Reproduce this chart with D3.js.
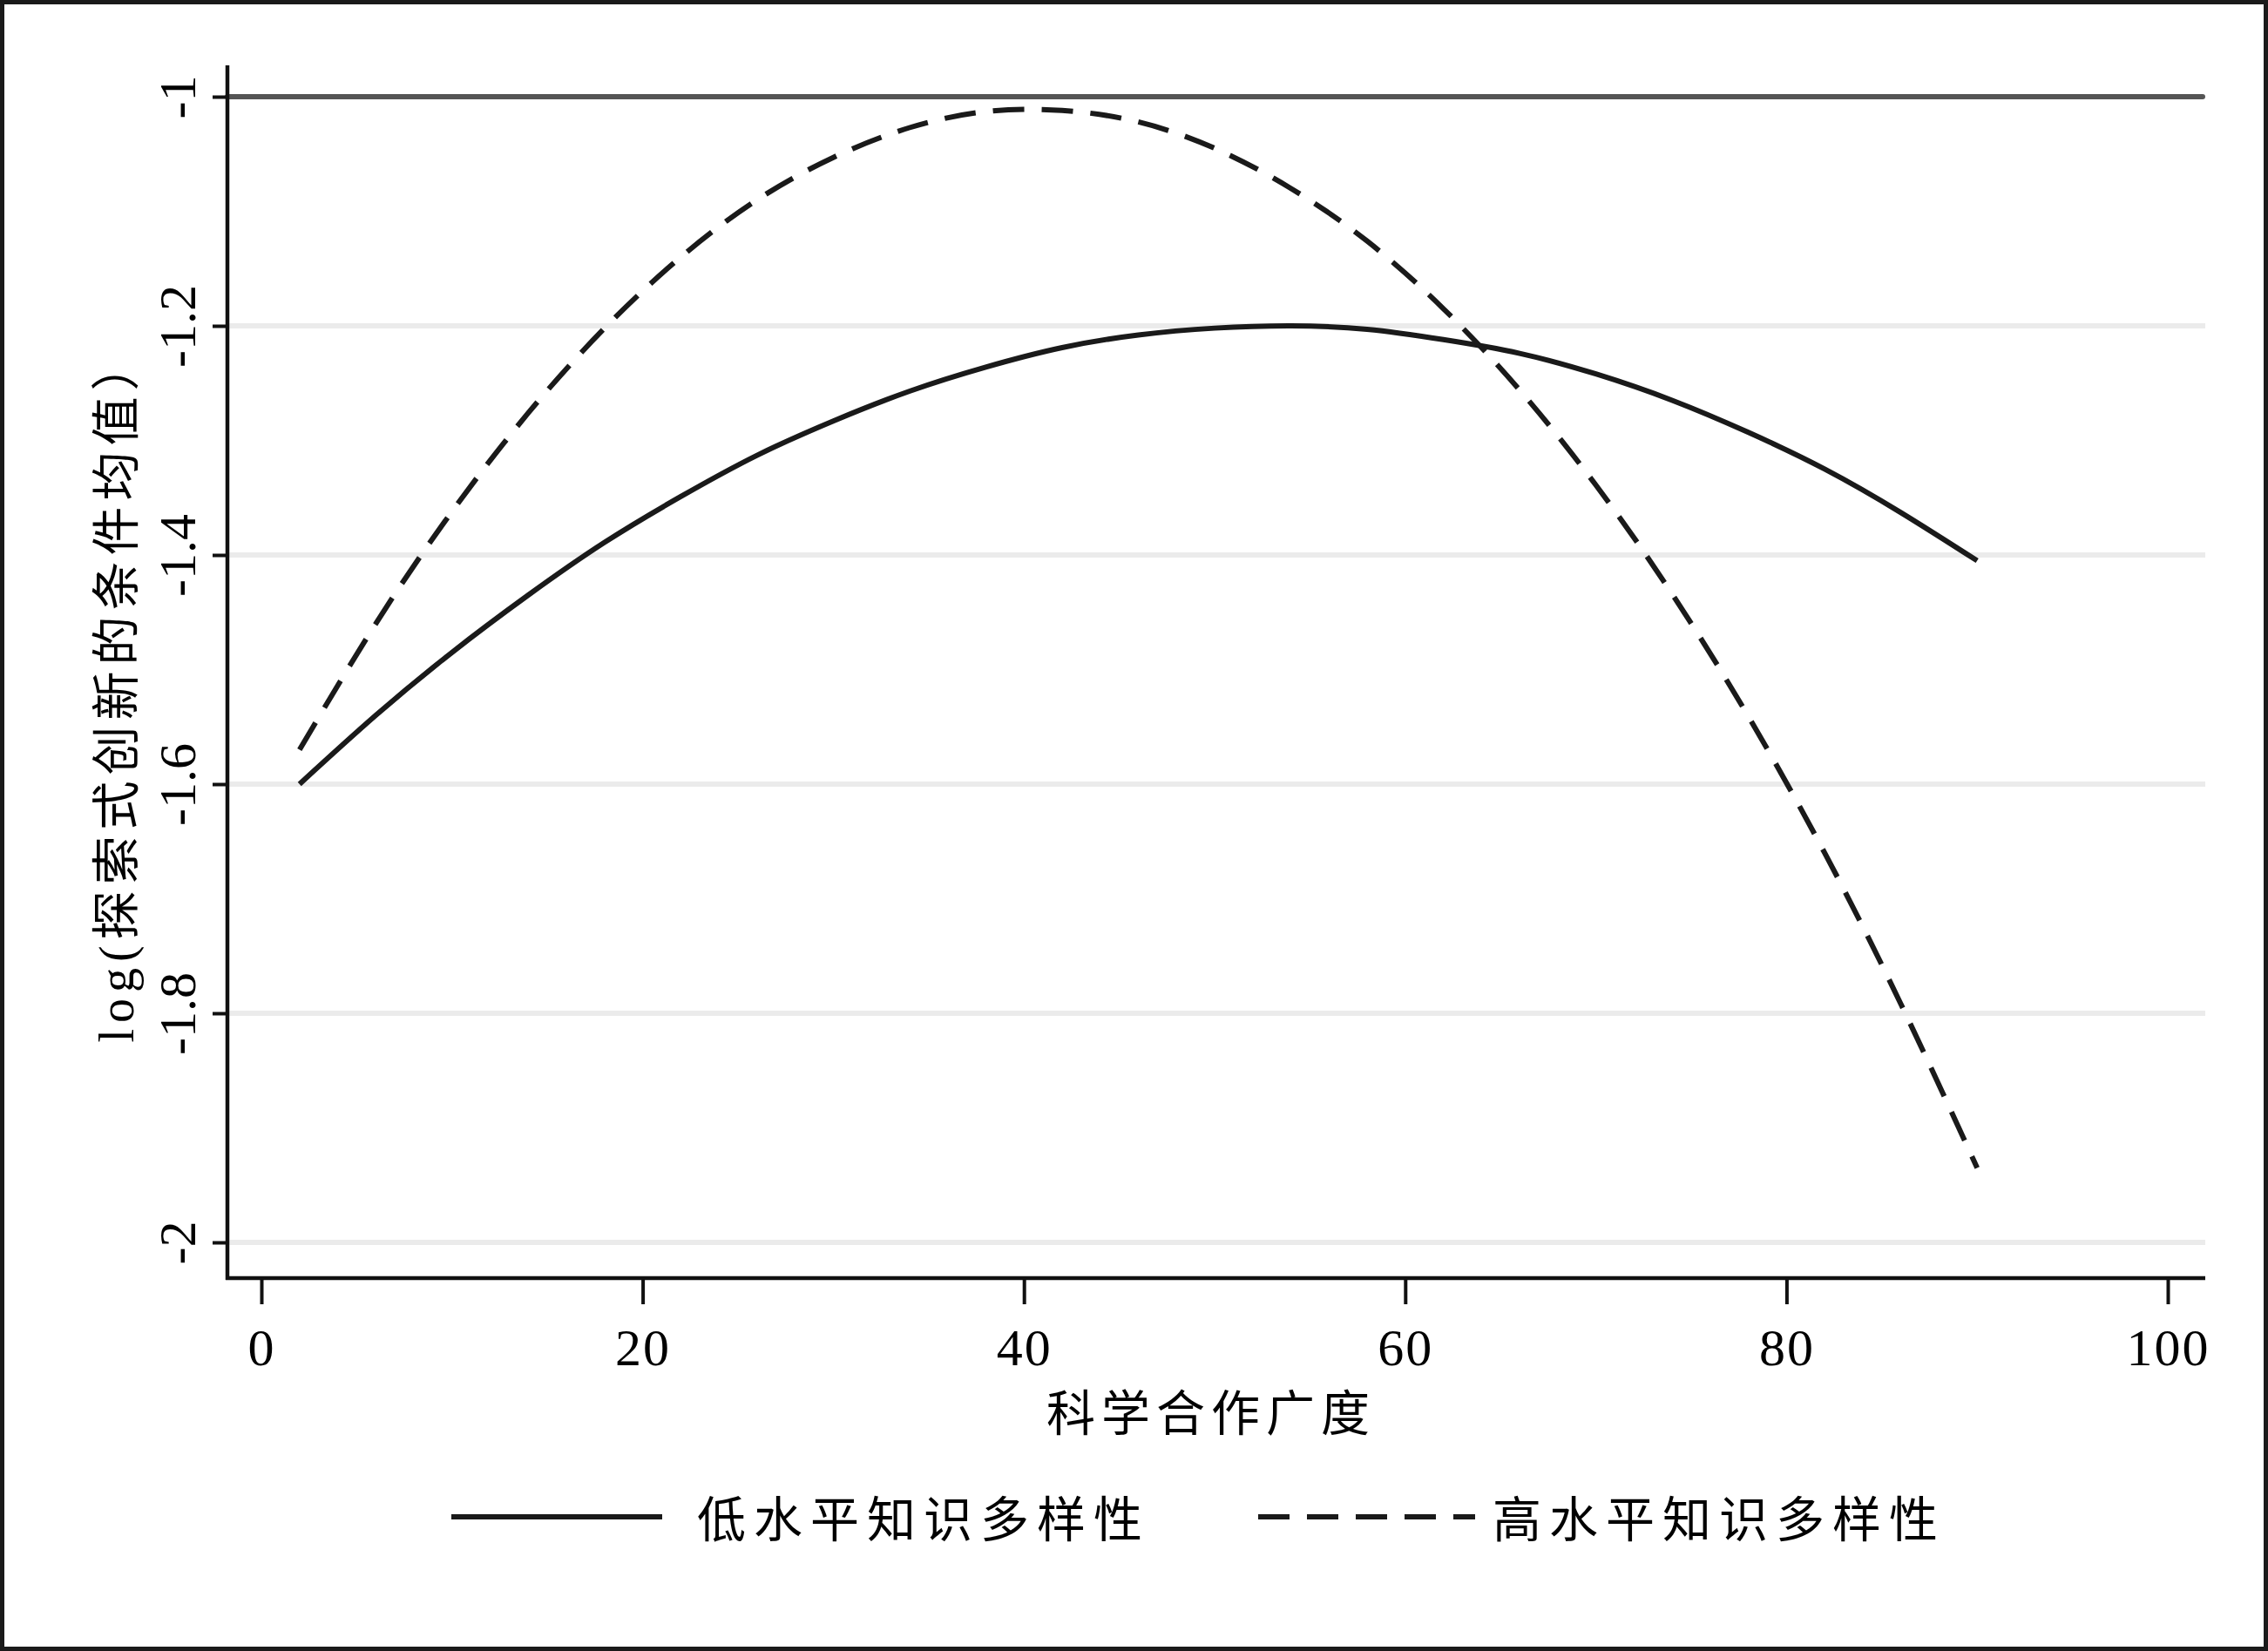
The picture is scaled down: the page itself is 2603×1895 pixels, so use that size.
<!DOCTYPE html>
<html>
<head>
<meta charset="utf-8">
<script src="https://cdn.jsdelivr.net/npm/d3@7"></script>
<style>
  html, body { margin: 0; padding: 0; background: #fff; }
  svg { display: block; }
</style>
</head>
<body>
<svg id="chart" width="2603" height="1895"></svg>
<script>
// ---- data ----
const breadth = [2, 6, 10, 14, 18, 22, 26, 30, 34, 38, 42, 46, 50, 54, 58, 62, 66, 70, 74, 78, 82, 86, 90];
const lowDiversity  = [-1.600, -1.540, -1.485, -1.435, -1.389, -1.349, -1.313, -1.283, -1.257, -1.236, -1.219, -1.208, -1.202, -1.200, -1.203, -1.212, -1.224, -1.242, -1.265, -1.293, -1.325, -1.363, -1.405];
const highDiversity = [-1.570, -1.460, -1.362, -1.276, -1.202, -1.140, -1.090, -1.053, -1.027, -1.013, -1.012, -1.022, -1.045, -1.080, -1.126, -1.185, -1.256, -1.339, -1.434, -1.541, -1.660, -1.792, -1.935];
const seriesNames = ["低水平知识多样性", "高水平知识多样性"];
const xTicks = [0, 20, 40, 60, 80, 100];
const yTicks = [-1, -1.2, -1.4, -1.6, -1.8, -2];
const yTickLabels = ["-1", "-1.2", "-1.4", "-1.6", "-1.8", "-2"];
const refLine = -1;
const xTitle = "科学合作广度";
const yTitle = "log(探索式创新的条件均值）";

// ---- layout ----
const W = 2603, H = 1895;
const plot = { left: 261, right: 2531, top: 75, bottom: 1467 };
const serif = "'Liberation Serif', 'Times New Roman', serif";
const cjk = "'Liberation Serif', 'Noto Sans CJK SC', serif";

const svg = d3.select("#chart");
svg.append("rect").attr("width", W).attr("height", H).attr("fill", "#fff");

const x = d3.scaleLinear().domain([0, 100]).range([300, 2488]);
const y = d3.scaleLinear().domain([-2, -1]).range([1426, 111]);

// gridlines
svg.append("g").selectAll("line")
  .data(yTicks.filter(v => v !== refLine))
  .join("line")
  .attr("x1", plot.left).attr("x2", plot.right)
  .attr("y1", d => y(d)).attr("y2", d => y(d))
  .attr("stroke", "#ebebeb").attr("stroke-width", 6);

// reference line at -1
svg.append("line")
  .attr("x1", plot.left).attr("x2", plot.right - 3)
  .attr("y1", y(refLine)).attr("y2", y(refLine))
  .attr("stroke", "#555").attr("stroke-width", 6).attr("stroke-linecap", "round");

// axes
const yAxis = svg.append("g").attr("transform", `translate(${plot.left},0)`)
  .call(d3.axisLeft(y).tickValues(yTicks).tickSize(17).tickFormat((d, i) => yTickLabels[i]));
yAxis.select(".domain").remove();
yAxis.selectAll(".tick line").attr("stroke", "#111").attr("stroke-width", 4);
yAxis.selectAll(".tick text")
  .attr("transform", "rotate(-90)")
  .attr("x", 0).attr("y", -37).attr("dy", 0)
  .attr("text-anchor", "middle")
  .attr("font-family", serif).attr("font-size", 60).attr("fill", "#000");

const xAxis = svg.append("g").attr("transform", `translate(0,${plot.bottom})`)
  .call(d3.axisBottom(x).tickValues(xTicks).tickSize(30).tickFormat(d3.format("d")));
xAxis.select(".domain").remove();
xAxis.selectAll(".tick line").attr("stroke", "#111").attr("stroke-width", 4);
xAxis.selectAll(".tick text")
  .attr("y", 100).attr("dy", 0)
  .attr("font-family", serif).attr("font-size", 60).attr("fill", "#000")
  .attr("letter-spacing", 2);

// axis lines
svg.append("line").attr("x1", plot.left).attr("x2", plot.left)
  .attr("y1", plot.top).attr("y2", plot.bottom + 2)
  .attr("stroke", "#111").attr("stroke-width", 4.5);
svg.append("line").attr("x1", plot.left - 2).attr("x2", plot.right)
  .attr("y1", plot.bottom).attr("y2", plot.bottom)
  .attr("stroke", "#111").attr("stroke-width", 4.5);

// curves
const pts = vals => breadth.map((b, i) => [b, vals[i]]);
const line = d3.line().x(d => x(d[0])).y(d => y(d[1])).curve(d3.curveNatural);
svg.append("path").datum(pts(lowDiversity))
  .attr("d", line).attr("fill", "none")
  .attr("stroke", "#1a1a1a").attr("stroke-width", 6);
svg.append("path").datum(pts(highDiversity))
  .attr("d", line).attr("fill", "none")
  .attr("stroke", "#1a1a1a").attr("stroke-width", 6)
  .attr("stroke-dasharray", "36,20");

// axis titles
svg.append("text")
  .attr("x", (plot.left + plot.right) / 2 - 6).attr("y", 1642)
  .attr("text-anchor", "middle")
  .attr("font-family", cjk).attr("font-size", 56).attr("letter-spacing", 7)
  .attr("fill", "#000").text(xTitle);

svg.append("text")
  .attr("transform", `translate(153,${(plot.top + plot.bottom) / 2 + 20}) rotate(-90)`)
  .attr("text-anchor", "middle")
  .attr("font-family", cjk).attr("font-size", 56).attr("letter-spacing", 7)
  .attr("fill", "#000").text(yTitle);

// legend
const legend = svg.append("g");
const legendItems = [
  { name: seriesNames[0], x1: 518, x2: 760, tx: 800, dash: null },
  { name: seriesNames[1], x1: 1444, x2: 1693, tx: 1713, dash: "36,20" }
];
legendItems.forEach(it => {
  legend.append("line")
    .attr("x1", it.x1).attr("x2", it.x2).attr("y1", 1741).attr("y2", 1741)
    .attr("stroke", "#1a1a1a").attr("stroke-width", 6)
    .attr("stroke-dasharray", it.dash);
  legend.append("text")
    .attr("x", it.tx).attr("y", 1764)
    .attr("font-family", cjk).attr("font-size", 56).attr("letter-spacing", 9)
    .attr("fill", "#000").text(it.name);
});

// outer frame
svg.append("rect").attr("x", 2.5).attr("y", 2.5).attr("width", W - 5).attr("height", H - 5)
  .attr("fill", "none").attr("stroke", "#1a1a1a").attr("stroke-width", 5);
</script>
</body>
</html>
